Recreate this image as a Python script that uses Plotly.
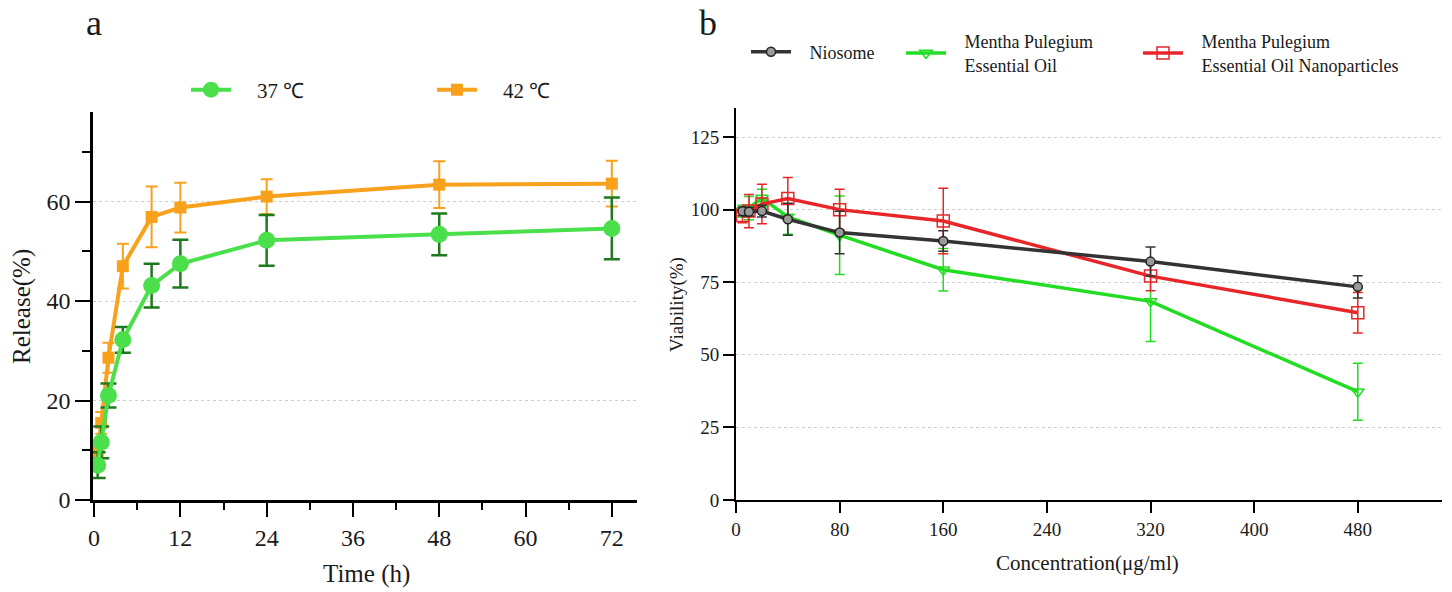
import plotly.graph_objects as go

# panel a : release vs time
time_h = [0.5, 1, 2, 4, 8, 12, 24, 48, 72]
rel37 = [7.0, 11.6, 21.0, 32.2, 43.1, 47.5, 52.2, 53.4, 54.6]
rel37_err = [2.6, 3.2, 2.4, 2.6, 4.4, 4.8, 5.1, 4.2, 6.2]
rel42 = [9.8, 15.5, 28.6, 47.0, 56.9, 58.8, 61.0, 63.4, 63.6]
rel42_err = [2.0, 2.2, 3.0, 4.5, 6.1, 5.0, 3.5, 4.7, 4.6]

# panel b : viability vs concentration
conc = [5, 10, 20, 40, 80, 160, 320, 480]
nio = [99.4, 99.3, 99.5, 96.7, 92.1, 89.2, 82.1, 73.4]
nio_err = [1.5, 1.5, 2.0, 5.5, 7.3, 3.5, 5.0, 3.8]
oil = [99.5, 100.5, 104.0, 97.5, 91.2, 79.3, 68.4, 37.3]
oil_err = [2.0, 4.0, 3.0, 6.0, 13.5, 7.3, 13.8, 9.8]
nano = [98.0, 99.5, 101.9, 103.8, 100.0, 96.1, 77.1, 64.5]
nano_err = [2.5, 5.7, 6.8, 7.3, 7.0, 11.3, 5.0, 7.0]

FONT = "Liberation Serif"
INK = "#1a1a1a"
W, H = 1452, 592

def px(x):
    return x / W

def py(y):
    return 1 - y / H

NB = "\u00a0"

fig = go.Figure()

fig.add_trace(go.Scatter(
    x=time_h, y=rel42, name=NB * 4 + "42 \u2103", mode="lines+markers",
    line=dict(color="#F7A11C", width=4),
    marker=dict(symbol="square", size=12, color="#F7A11C"),
    error_y=dict(type="data", array=rel42_err, color="#F7A11C", thickness=2, width=6),
    xaxis="x", yaxis="y", legend="legend2"))
fig.add_trace(go.Scatter(
    x=time_h, y=rel37, name=NB * 4 + "37 \u2103", mode="lines+markers",
    line=dict(color="#4BE04B", width=4),
    marker=dict(symbol="circle", size=17, color="#4BE04B"),
    error_y=dict(type="data", array=rel37_err, color="#1E7A1E", thickness=2.5, width=8),
    xaxis="x", yaxis="y", legend="legend"))

pad = NB * 3
fig.add_trace(go.Scatter(
    x=conc, y=oil, name=pad + "Mentha Pulegium<br>" + pad + "Essential Oil", mode="lines+markers",
    line=dict(color="#22DD22", width=3.5),
    marker=dict(symbol="triangle-down-open", size=11, color="#22DD22", line=dict(width=1.5)),
    error_y=dict(type="data", array=oil_err, color="#22DD22", thickness=1.5, width=5),
    xaxis="x2", yaxis="y2", legend="legend4"))
fig.add_trace(go.Scatter(
    x=conc, y=nano, name=pad + "Mentha Pulegium<br>" + pad + "Essential Oil Nanoparticles",
    mode="lines+markers",
    line=dict(color="#E8262A", width=3.5),
    marker=dict(symbol="square-open", size=12, color="#E8262A", line=dict(width=1.5)),
    error_y=dict(type="data", array=nano_err, color="#E8262A", thickness=1.5, width=5),
    xaxis="x2", yaxis="y2", legend="legend5"))
fig.add_trace(go.Scatter(
    x=conc, y=nio, name=pad + "Niosome", mode="lines+markers",
    line=dict(color="#333333", width=3.5),
    marker=dict(symbol="circle", size=9, color="#9a9a9a", line=dict(color="#222222", width=1.5)),
    error_y=dict(type="data", array=nio_err, color="#333333", thickness=1.5, width=5),
    xaxis="x2", yaxis="y2", legend="legend3"))

def axis_style(fsize, tlen, lw):
    return dict(showline=True, linecolor="black", linewidth=lw,
                ticks="outside", ticklen=tlen, tickwidth=2, tickcolor="black",
                zeroline=False, automargin=False,
                tickfont=dict(family=FONT, size=fsize, color=INK))

grid = dict(showgrid=True, gridcolor="#cfcfcf", griddash="dot", gridwidth=1)

fig.update_layout(
    width=W, height=H,
    margin=dict(l=0, r=0, t=0, b=0),
    paper_bgcolor="white", plot_bgcolor="white",
    font=dict(family=FONT, color=INK),
    showlegend=True,
    xaxis=dict(domain=[px(93), px(637)], range=[-0.15, 75.5], tickvals=[0, 12, 24, 36, 48, 60, 72],
               showgrid=False, anchor="y",
               minor=dict(dtick=6, tick0=0, ticks="outside", ticklen=7, tickwidth=2, tickcolor="black"),
               **axis_style(24, 14, 2.5)),
    yaxis=dict(domain=[py(500), py(112)], range=[0, 78], tickvals=[0, 20, 40, 60],
               anchor="x",
               minor=dict(dtick=10, tick0=0, ticks="outside", ticklen=8, tickwidth=2, tickcolor="black"),
               **grid, **axis_style(24, 15, 2.5)),
    xaxis2=dict(domain=[px(736), px(1442)], range=[0, 545], tickvals=[0, 80, 160, 240, 320, 400, 480],
                showgrid=False, anchor="y2", **axis_style(19, 11, 2)),
    yaxis2=dict(domain=[py(500), py(108)], range=[0, 135], tickvals=[0, 25, 50, 75, 100, 125],
                anchor="x2", **grid, **axis_style(19, 11, 2)),
)

leg_a = dict(orientation="h", xanchor="left", yanchor="middle", bgcolor="rgba(0,0,0,0)",
             font=dict(family=FONT, size=21, color=INK), itemwidth=40, visible=True)
leg_b = dict(orientation="h", xanchor="left", yanchor="middle", bgcolor="rgba(0,0,0,0)",
             font=dict(family=FONT, size=18, color=INK), itemwidth=40, visible=True)
fig.update_layout(
    legend=dict(x=px(186), y=py(90), **leg_a),
    legend2=dict(x=px(432), y=py(90), **leg_a),
    legend3=dict(x=px(746), y=py(52), **leg_b),
    legend4=dict(x=px(901), y=py(53), **leg_b),
    legend5=dict(x=px(1138), y=py(53), **leg_b),
)

annos = [
    dict(text="a", x=px(94), y=py(1), yanchor="top", font=dict(size=36)),
    dict(text="b", x=px(708), y=py(1), yanchor="top", font=dict(size=36)),
    dict(text="Release(%)", x=px(22), y=py(307), textangle=-90, font=dict(size=25)),
    dict(text="Time (h)", x=px(367), y=py(574), font=dict(size=25)),
    dict(text="Viability(%)", x=px(677), y=py(305), textangle=-90, font=dict(size=19)),
    dict(text="Concentration(\u03bcg/ml)", x=px(1087), y=py(563), font=dict(size=21)),
]
for a in annos:
    a.setdefault("yanchor", "middle")
    fig.add_annotation(xref="paper", yref="paper", showarrow=False, xanchor="center", **a)

# drop the default page margin so the figure sits at the window corner
fig.write_html("out.html", config={"displayModeBar": False},
               post_script="document.body.style.margin='0';")
